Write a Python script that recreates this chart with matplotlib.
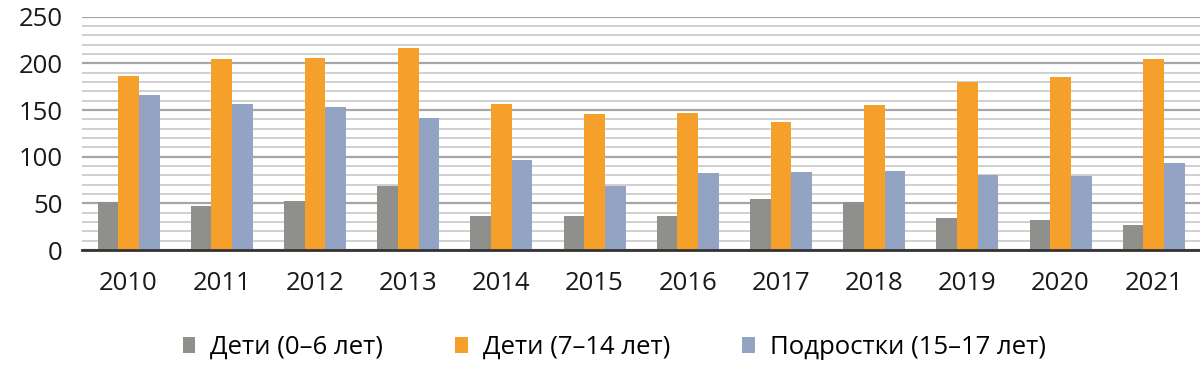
import matplotlib
matplotlib.use("Agg")
import matplotlib.pyplot as plt
import numpy as np

years = ["2010", "2011", "2012", "2013", "2014", "2015", "2016", "2017", "2018", "2019", "2020", "2021"]
series_names = ["Дети (0–6 лет)", "Дети (7–14 лет)", "Подростки (15–17 лет)"]
kids_0_6 = [51, 47, 53, 69, 37, 36, 36, 55, 51, 34, 32, 27]
kids_7_14 = [187, 205, 206, 217, 156, 146, 147, 137, 155, 180, 185, 205]
teens_15_17 = [166, 156, 153, 141, 96, 69, 83, 84, 85, 80, 79, 93]
colors = ["#8f8f8c", "#f4a02a", "#93a3c4"]

plt.rcParams['font.family'] = ['Open Sans', 'DejaVu Sans']

fig = plt.figure(figsize=(12, 3.65), dpi=100)
ax = fig.add_axes([0.0683, 0.315, 0.932, 0.639])

x = np.arange(len(years))
w = 0.222
for i, (vals, c, name) in enumerate(zip([kids_0_6, kids_7_14, teens_15_17], colors, series_names)):
    ax.bar(x + (i - 1) * w, vals, width=w, color=c, label=name, zorder=3, linewidth=0)

ax.set_xlim(-0.5, len(years) - 0.5)
ax.set_ylim(0, 250)
ax.set_yticks(np.arange(0, 251, 50))
ax.set_yticks(np.arange(0, 251, 10), minor=True)
ax.grid(axis='y', which='major', color='#a6a6a6', linewidth=1.6, zorder=0)
ax.grid(axis='y', which='minor', color='#d0d0d0', linewidth=1.4, zorder=0)
ax.set_xticks(x)
ax.set_xticklabels(years)
ax.tick_params(axis='both', which='both', length=0, labelsize=18.5, colors='#1a1a1a')
ax.tick_params(axis='x', pad=15)
ax.tick_params(axis='y', pad=14)
for s in ['top', 'right', 'left']:
    ax.spines[s].set_visible(False)
ax.spines['bottom'].set_color('#333333')
ax.spines['bottom'].set_linewidth(2)
ax.spines['bottom'].set_zorder(4)

handles, labels = ax.get_legend_handles_labels()
fig.legend(handles, labels, loc='center', bbox_to_anchor=(0.512, 0.048), ncol=3, frameon=False,
           fontsize=18.5, handlelength=0.5, handleheight=0.55, columnspacing=2.8, handletextpad=0.58)

fig.savefig("out.png", dpi=100)
